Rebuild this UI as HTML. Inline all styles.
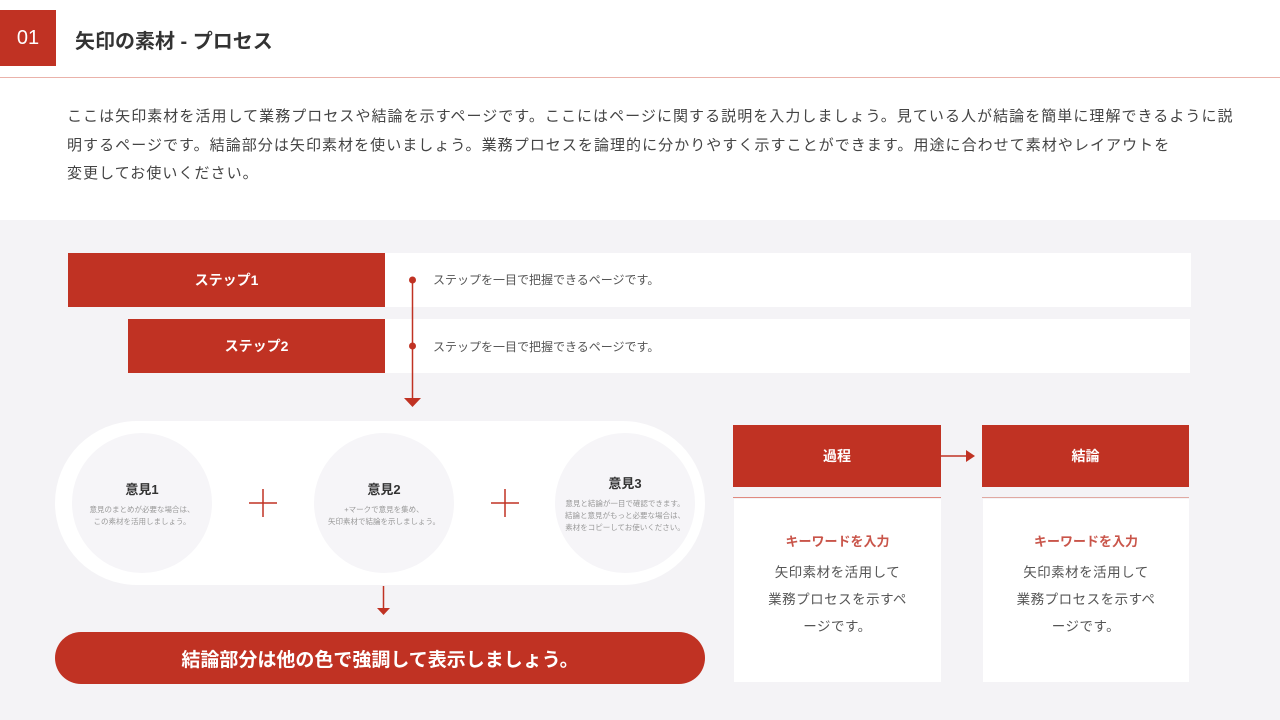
<!DOCTYPE html><html><head><meta charset="utf-8"><style>
*{margin:0;padding:0;box-sizing:border-box}
body{width:1280px;height:720px;position:relative;background:#fff;font-family:"Liberation Sans","Noto Sans CJK JP",sans-serif;overflow:hidden;color:#333}
.a{position:absolute}
.red{background:#c03223;color:#fff}
.c{display:flex;align-items:center;justify-content:center;text-align:center}
</style></head><body>
<div class="a red c" style="left:0;top:10px;width:56px;height:56px;font-size:20px">01</div>
<div class="a" style="left:75px;top:25px;font-size:20px;font-weight:bold;color:#333">矢印の素材 - プロセス</div>
<div class="a" style="left:0;top:77px;width:1280px;height:1px;background:#eab2aa"></div>
<div class="a" style="left:67px;top:103px;width:1170px;font-size:15px;letter-spacing:1.05px;line-height:28.7px;color:#444">ここは矢印素材を活用して業務プロセスや結論を示すページです。ここにはページに関する説明を入力しましょう。見ている人が結論を簡単に理解できるように説<br>明するページです。結論部分は矢印素材を使いましょう。業務プロセスを論理的に分かりやすく示すことができます。用途に合わせて素材やレイアウトを<br>変更してお使いください。</div>
<div class="a" style="left:0;top:220px;width:1280px;height:500px;background:#f4f3f6"></div>

<div class="a" style="left:385px;top:253px;width:806px;height:54px;background:#fff"></div>
<div class="a red c" style="left:68px;top:253px;width:317px;height:54px;font-size:14px;font-weight:bold">ステップ1</div>
<div class="a" style="left:433px;top:271px;font-size:12px;color:#555">ステップを一目で把握できるページです。</div>
<div class="a" style="left:385px;top:319px;width:805px;height:54px;background:#fff"></div>
<div class="a red c" style="left:128px;top:319px;width:257px;height:54px;font-size:14px;font-weight:bold">ステップ2</div>
<div class="a" style="left:433px;top:338px;font-size:12px;color:#555">ステップを一目で把握できるページです。</div>
<svg class="a" style="left:0;top:0" width="1280" height="720">
<line x1="412.5" y1="280" x2="412.5" y2="400" stroke="#c03223" stroke-width="1.5"/>
<circle cx="412.5" cy="280" r="3.5" fill="#c03223"/><circle cx="412.5" cy="346" r="3.5" fill="#c03223"/>
<polygon points="404,398 421,398 412.5,407" fill="#c03223"/>
<line x1="383.5" y1="586" x2="383.5" y2="612" stroke="#c03223" stroke-width="1.5"/>
<polygon points="377,608 390,608 383.5,615" fill="#c03223"/>
<line x1="941" y1="456" x2="968" y2="456" stroke="#c03223" stroke-width="1.5"/>
<polygon points="966,450 975,456 966,462" fill="#c03223"/>
</svg>
<div class="a" style="left:55px;top:421px;width:650px;height:164px;background:#fff;border-radius:82px"></div>
<div class="a c" style="left:72px;top:433px;width:140px;height:140px;border-radius:50%;background:#f6f5f8;flex-direction:column"><div style="font-size:13px;font-weight:bold;color:#333">意見1</div><div style="font-size:7.5px;color:#999;line-height:12px;margin-top:6px">意見のまとめが必要な場合は、<br>この素材を活用しましょう。</div></div>
<div class="a c" style="left:314px;top:433px;width:140px;height:140px;border-radius:50%;background:#f6f5f8;flex-direction:column"><div style="font-size:13px;font-weight:bold;color:#333">意見2</div><div style="font-size:7.5px;color:#999;line-height:12px;margin-top:6px">+マークで意見を集め、<br>矢印素材で結論を示しましょう。</div></div>
<div class="a c" style="left:555px;top:433px;width:140px;height:140px;border-radius:50%;background:#f6f5f8;flex-direction:column"><div style="font-size:13px;font-weight:bold;color:#333">意見3</div><div style="font-size:7.5px;color:#999;line-height:12px;margin-top:6px">意見と結論が一目で確認できます。<br>結論と意見がもっと必要な場合は、<br>素材をコピーしてお使いください。</div></div>
<svg class="a" style="left:0;top:0" width="1280" height="720">
<path d="M249 503H277M263 489V517M491 503H519M505 489V517" stroke="#c03223" stroke-width="1.5"/>
</svg>
<div class="a red c" style="left:55px;top:632px;width:650px;height:52px;border-radius:26px;font-size:19px;font-weight:bold">結論部分は他の色で強調して表示しましょう。</div>

<div class="a red c" style="left:733px;top:425px;width:208px;height:62px;font-size:14px;font-weight:bold">過程</div>
<div class="a" style="left:733px;top:497px;width:208px;height:1px;background:#e08a80"></div>
<div class="a c" style="left:734px;top:499px;width:207px;height:183px;background:#fff;flex-direction:column;justify-content:flex-start;padding-top:32px"><div style="font-size:13px;font-weight:bold;color:#c9554a">キーワードを入力</div><div style="font-size:13.5px;color:#555;line-height:27px;margin-top:9px;letter-spacing:0.5px">矢印素材を活用して<br>業務プロセスを示すペ<br>ージです。</div></div>
<div class="a red c" style="left:982px;top:425px;width:207px;height:62px;font-size:14px;font-weight:bold">結論</div>
<div class="a" style="left:982px;top:497px;width:207px;height:1px;background:#e0a9a2"></div>
<div class="a c" style="left:983px;top:499px;width:206px;height:183px;background:#fff;flex-direction:column;justify-content:flex-start;padding-top:32px"><div style="font-size:13px;font-weight:bold;color:#c9554a">キーワードを入力</div><div style="font-size:13.5px;color:#555;line-height:27px;margin-top:9px;letter-spacing:0.5px">矢印素材を活用して<br>業務プロセスを示すペ<br>ージです。</div></div>
</body></html>
